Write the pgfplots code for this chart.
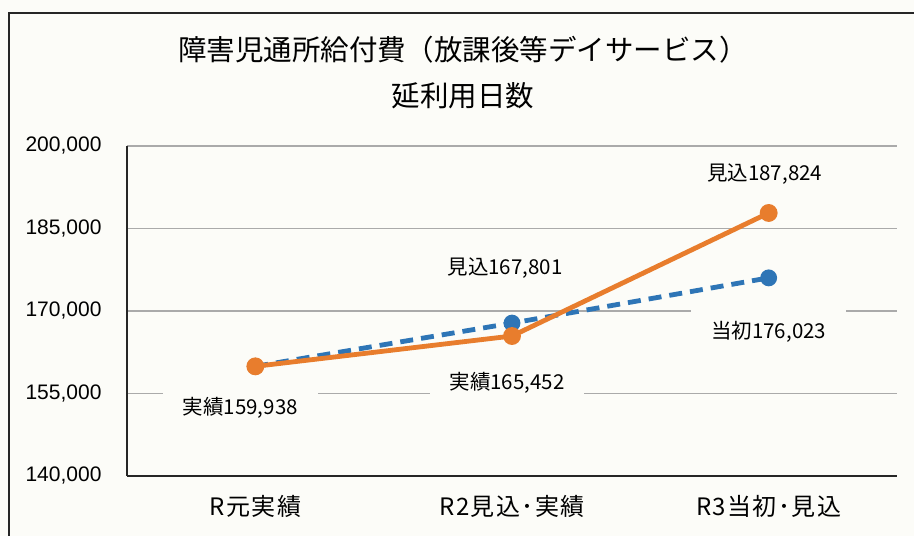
\documentclass[border=0pt]{standalone}
\usepackage{fontspec}
\setmainfont{Noto Sans CJK JP}
\newfontfamily\arial{Liberation Sans}
\newfontfamily\catfont[LetterSpace=6]{Noto Sans CJK JP}
\usepackage{pgfplots}
\pgfplotsset{compat=1.18}
\definecolor{bg}{RGB}{252,252,248}
\definecolor{orng}{RGB}{232,125,45}
\definecolor{blu}{RGB}{46,117,182}
\definecolor{grd}{RGB}{170,170,170}
\begin{document}
\begin{tikzpicture}[x=1pt,y=1pt]
\fill[bg] (0,0) rectangle (914,536);
\useasboundingbox (0,0) rectangle (914,536);
\draw[line width=2pt, black!85] (9,-5) -- (9,523) -- (920,523);
\node[font=\fontsize{28.5}{46}\selectfont, align=center] at (463,463) {障害児通所給付費（放課後等デイサービス）\\延利用日数};
\begin{axis}[
  at={(127pt,60pt)}, anchor=south west,
  width=770pt, height=330pt, scale only axis,
  xmin=-0.5, xmax=2.5, ymin=140000, ymax=200000,
  ytick={140000,155000,170000,185000,200000},
  yticklabels={{140,000},{155,000},{170,000},{185,000},{200,000}},
  xtick={0,1,2},
  xticklabels={R元実績, R2見込･実績, R3当初･見込},
  axis lines*=left,
  axis line style={line width=1.6pt, black!85},
  major tick length=0pt,
  ymajorgrids, grid style={grd, line width=1.1pt},
  scaled y ticks=false,
  yticklabel style={font=\arial\fontsize{21}{21}\selectfont},
  yticklabel shift=22pt,
  xticklabel style={font=\catfont\fontsize{24}{24}\selectfont},
  xticklabel shift=16pt,
  clip=false,
]
\addplot[blu, line width=4.8pt, dash pattern=on 13pt off 8pt, mark=*, mark size=6pt, mark options={solid}] coordinates {(0,159938)(1,167801)(2,176023)};
\addplot[orng, line width=4.8pt, mark=*, mark size=6.5pt] coordinates {(0,159938)(1,165452)(2,187824)};
\tikzset{lbl/.style={fill=bg, inner xsep=20pt, inner ysep=11pt, font=\fontsize{20.5}{20.5}\selectfont}}
\node[lbl, xshift=-15pt, yshift=-41pt] at (axis cs:0,159938) {実績159,938};
\node[lbl, xshift=-7pt, yshift=55pt] at (axis cs:1,167801) {見込167,801};
\node[lbl, xshift=-5pt, yshift=-47pt] at (axis cs:1,165452) {実績165,452};
\node[lbl, xshift=-4pt, yshift=39pt] at (axis cs:2,187824) {見込187,824};
\node[lbl, xshift=0pt, yshift=-54pt] at (axis cs:2,176023) {当初176,023};
\end{axis}
\end{tikzpicture}
\end{document}
